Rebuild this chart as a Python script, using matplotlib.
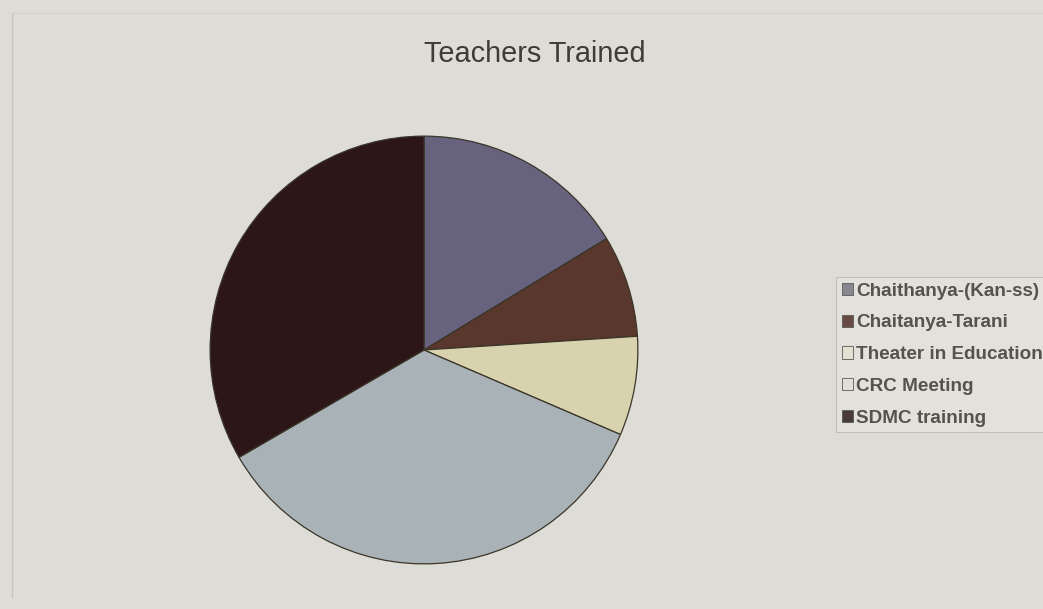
import matplotlib.pyplot as plt
import numpy as np

labels = ['Chaithanya-(Kan-ss)', 'Chaitanya-Tarani', 'Theater in Education',
          'CRC Meeting', 'SDMC training']
values = [16.3, 7.7, 7.5, 35.2, 33.4]
colors = ['#67637f', '#5a372c', '#d8d3ae', '#a9b3b7', '#2d1618']
legend_colors = ['#8a8790', '#6a4a44', '#e4e1d4', '#e2e0d6', '#4a3a3a']

bg = '#dddcd6'

fig = plt.figure(figsize=(10.43, 6.09), dpi=100)
fig.patch.set_facecolor(bg)
plt.rcParams['font.family'] = ['Liberation Sans', 'DejaVu Sans']

# pie axes, centered at roughly (424, 350) px with radius 216 px
ax = fig.add_axes([208 / 1043, 43 / 609, 432 / 1043, 432 / 609])
ax.set_facecolor(bg)
wedges, _ = ax.pie(values, colors=colors, startangle=90, counterclock=False,
                   radius=1.0,
                   wedgeprops=dict(edgecolor='#3a3528', linewidth=0.9))
ax.set_xlim(-1.01, 1.01)
ax.set_ylim(-1.01, 1.01)
ax.set_aspect('equal')
ax.axis('off')

fig.text(535 / 1043, 1 - 54 / 609, 'Teachers Trained', ha='center', va='center',
         fontsize=20.8, color='#3d3d36')

# faint border of the chart area
fig.add_artist(plt.Line2D([12 / 1043, 12 / 1043], [0.02, 1 - 13 / 609], color='#c4c3bc',
                          linewidth=0.9, transform=fig.transFigure))
fig.add_artist(plt.Line2D([12 / 1043, 1.0], [1 - 13 / 609, 1 - 13 / 609], color='#d2d1ca',
                          linewidth=0.8, transform=fig.transFigure))

handles = [plt.Rectangle((0, 0), 1, 1, facecolor=c, edgecolor='#5a5a55', linewidth=0.6)
           for c in legend_colors]
leg = fig.legend(handles, labels, loc='upper left',
                 bbox_to_anchor=(836 / 1043, 1 - 277 / 609),
                 frameon=True, prop={'size': 13.6, 'weight': 'bold'},
                 handlelength=0.62, handleheight=0.62,
                 handletextpad=0.15, labelspacing=0.78, borderpad=0.3,
                 borderaxespad=0.0, fancybox=False, labelcolor='#54544c')
leg.get_frame().set_facecolor('#e4e3dd')
leg.get_frame().set_edgecolor('#b8b7b0')
leg.get_frame().set_linewidth(0.8)

plt.savefig('out.png', dpi=100, facecolor=bg)
